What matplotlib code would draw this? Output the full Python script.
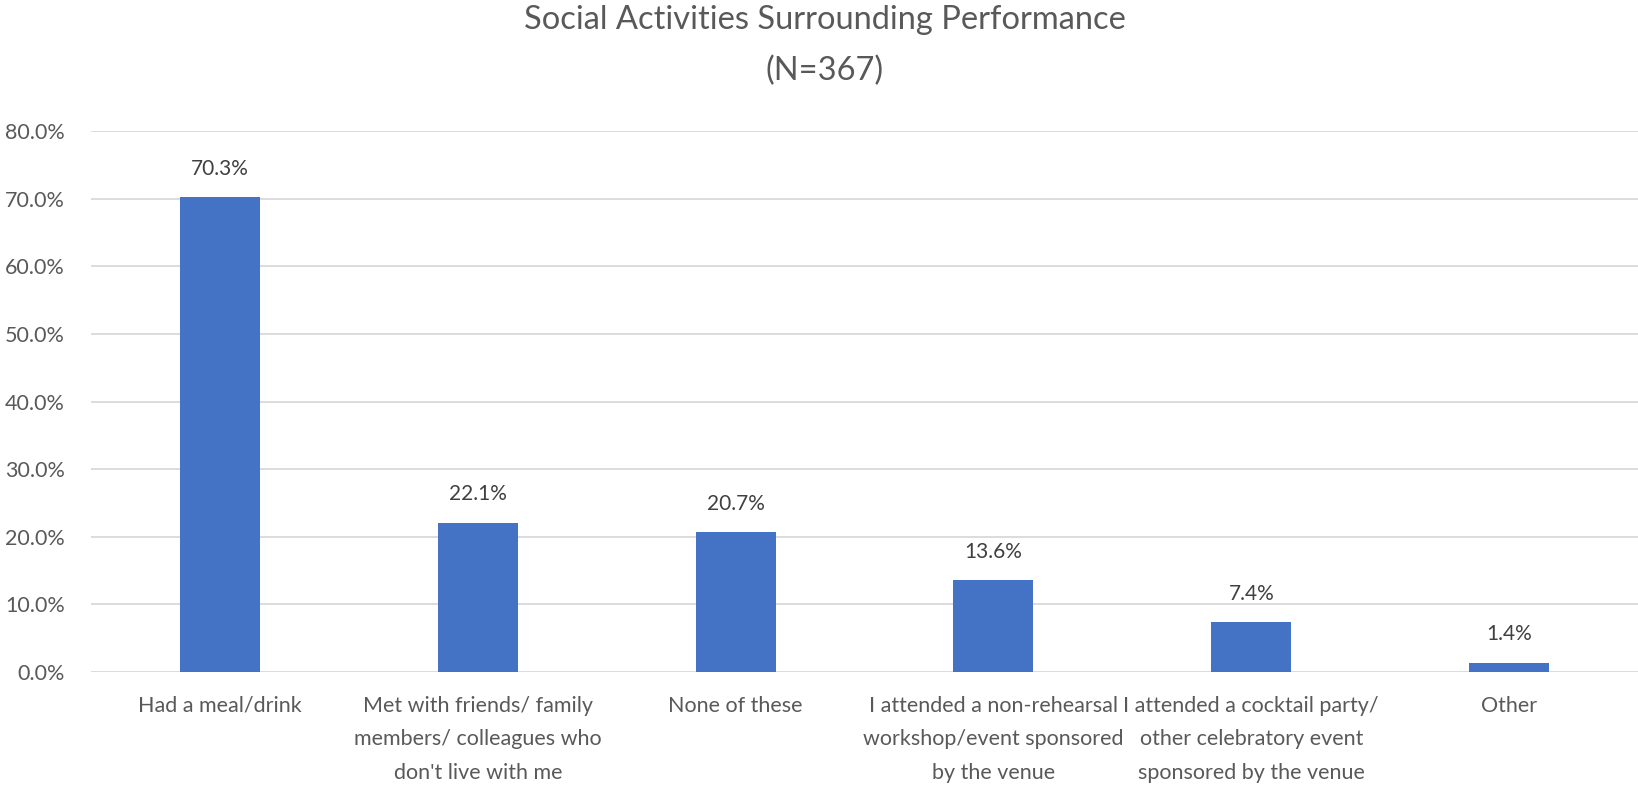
import matplotlib
matplotlib.use("Agg")
import matplotlib.pyplot as plt
from matplotlib.ticker import FuncFormatter, MultipleLocator

categories = [
    "Had a meal/drink",
    "Met with friends/ family\nmembers/ colleagues who\ndon't live with me",
    "None of these",
    "I attended a non-rehearsal\nworkshop/event sponsored\nby the venue",
    "I attended a cocktail party/\nother celebratory event\nsponsored by the venue",
    "Other",
]
values = [70.3, 22.1, 20.7, 13.6, 7.4, 1.4]
title = "Social Activities Surrounding Performance\n(N=367)"

plt.rcParams['font.family'] = ['Lato', 'DejaVu Sans']

W, H = 1638, 789
fig = plt.figure(figsize=(W / 100, H / 100), dpi=100)
left, right, y0, y80 = 91, 1638, 672, 131
ax = fig.add_axes([left / W, (H - y0) / H, (right - left) / W, (y0 - y80) / H])

x = list(range(len(categories)))
bars = ax.bar(x, values, width=0.31, color="#4472C4", zorder=3)
ax.set_xlim(-0.5, len(categories) - 0.5)
ax.set_ylim(0, 80)
ax.yaxis.set_major_locator(MultipleLocator(10))
ax.yaxis.set_major_formatter(FuncFormatter(lambda v, p: f"{v:.1f}%"))
ax.grid(axis="y", color="#D9D9D9", linewidth=1.3, zorder=0)
for s in ax.spines.values():
    s.set_visible(False)
ax.tick_params(axis="both", length=0, colors="#595959")
ax.tick_params(axis="y", pad=19, labelsize=15.5)
ax.tick_params(axis="x", pad=17)
ax.set_xticks(x)
ax.set_xticklabels(categories, fontsize=15.5, color="#595959", linespacing=1.85)

for b, v in zip(bars, values):
    ax.annotate(f"{v:.1f}%", (b.get_x() + b.get_width() / 2, v), xytext=(0, 13),
                textcoords="offset points", ha="center", va="bottom",
                fontsize=15, color="#404040")

fig.text(825 / W, 1 - 46 / H, title, ha="center", va="center", fontsize=23.5,
         color="#595959", linespacing=1.85)

fig.savefig("out.png", dpi=100)
